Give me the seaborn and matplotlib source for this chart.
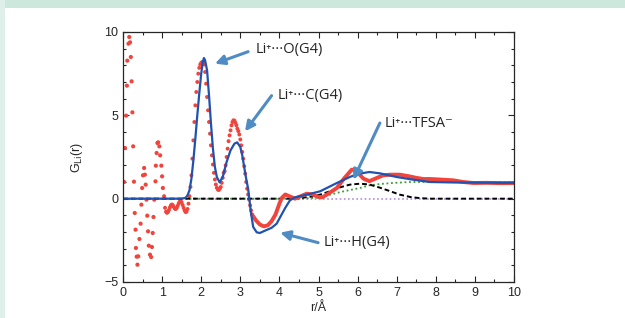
import numpy as np
import pandas as pd
import seaborn as sns
import matplotlib.pyplot as plt
from matplotlib.patches import Rectangle
from matplotlib.ticker import MultipleLocator

# 実験データ (赤点) - 低r側の散らばった点
r_exp_dots = [0.00, 0.03, 0.05, 0.08, 0.10, 0.11, 0.14, 0.16, 0.18, 0.20, 0.22, 0.24,
              0.26, 0.28, 0.30, 0.32, 0.33, 0.35, 0.37, 0.39, 0.42, 0.45, 0.47, 0.49,
              0.51, 0.54, 0.56, 0.58, 0.60, 0.62, 0.64, 0.66, 0.69, 0.72, 0.74, 0.76,
              0.78, 0.80, 0.83, 0.84, 0.86, 0.88, 0.90, 0.93, 0.95, 0.98, 1.00, 1.02]
g_exp_dots = [1.00, 1.00, 3.04, 4.98, 6.78, 8.28, 9.30, 9.70, 9.38, 8.50, 7.04, 5.18,
              3.14, 1.02, -0.86, -1.86, -2.96, -3.48, -3.96, -3.46, -2.42, -1.50, -0.36, 0.64,
              1.40, 1.84, 1.44, 0.84, -0.06, -1.02, -1.96, -2.82, -3.36, -3.50, -2.90, -2.06,
              -1.10, -0.06, 1.04, 1.98, 2.74, 3.34, 3.38, 3.14, 2.60, 1.98, 1.34, 0.64]

# 実験データ (赤点) - 密な点
r_exp_dense = [1.050, 1.075, 1.100, 1.125, 1.150, 1.175, 1.200, 1.225, 1.250, 1.275,
               1.300, 1.325, 1.350, 1.375, 1.400, 1.425, 1.450, 1.475, 1.500, 1.525,
               1.550, 1.575, 1.600, 1.625, 1.650, 1.675, 1.700, 1.725, 1.750, 1.775,
               1.800, 1.825, 1.850, 1.875, 1.900, 1.925, 1.950, 1.975, 2.000, 2.025,
               2.050, 2.075, 2.100, 2.125, 2.150, 2.175, 2.200, 2.225, 2.250, 2.275,
               2.300, 2.325, 2.350, 2.375, 2.400, 2.425, 2.450, 2.475, 2.500, 2.525,
               2.550, 2.575, 2.600, 2.625, 2.650, 2.675, 2.700, 2.725, 2.750, 2.775,
               2.800, 2.825, 2.850, 2.875, 2.900, 2.925, 2.950, 2.975, 3.000, 3.025,
               3.050, 3.075, 3.100, 3.125, 3.150, 3.175, 3.200, 3.225, 3.250, 3.275, 3.300]
g_exp_dense = [0.15, -0.55, -0.78, -0.85, -0.80, -0.68, -0.52, -0.40, -0.35, -0.40,
               -0.50, -0.60, -0.62, -0.55, -0.42, -0.28, -0.18, -0.15, -0.22, -0.38,
               -0.55, -0.70, -0.80, -0.78, -0.62, -0.30, 0.15, 0.70, 1.40, 2.40,
               3.50, 4.60, 5.60, 6.40, 7.00, 7.50, 7.85, 8.05, 8.15, 8.20,
               8.20, 8.05, 7.60, 6.90, 6.10, 5.30, 4.60, 3.90, 3.20, 2.60,
               2.05, 1.55, 1.15, 0.85, 0.65, 0.55, 0.52, 0.60, 0.70, 0.95,
               1.25, 1.55, 1.65, 2.00, 2.50, 3.00, 3.45, 3.80, 4.10, 4.40,
               4.60, 4.70, 4.68, 4.55, 4.40, 4.20, 4.05, 3.85, 3.55, 3.20,
               2.80, 2.40, 1.95, 1.50, 1.00, 0.60, 0.25, -0.05, -0.40, -0.70, -0.95]

# 実験データ (赤線)
r_exp_line = [3.30, 3.40, 3.50, 3.60, 3.70, 3.80, 3.90, 4.00, 4.06, 4.15, 4.25, 4.40,
              4.55, 4.70, 4.85, 5.00, 5.10, 5.25, 5.47, 5.65, 5.85, 5.95, 6.05, 6.15,
              6.30, 6.50, 6.65, 6.83, 7.08, 7.30, 7.50, 7.68, 7.85, 8.10, 8.45, 8.70,
              8.96, 9.30, 9.70, 10.0]
g_exp_line = [-0.95, -1.30, -1.55, -1.66, -1.60, -1.35, -0.95, -0.30, 0.04, 0.25, 0.15, 0.00,
              0.15, 0.30, 0.25, 0.10, 0.08, 0.30, 0.64, 1.20, 1.74, 1.70, 1.45, 1.20,
              1.05, 1.25, 1.40, 1.44, 1.44, 1.35, 1.25, 1.18, 1.18, 1.15, 1.10, 1.00,
              0.94, 0.95, 0.93, 0.94]

# 計算 (青線)
r_calc = [0.0, 1.50, 1.60, 1.65, 1.70, 1.75, 1.80, 1.85, 1.90, 1.95, 2.00, 2.04, 2.07,
          2.10, 2.15, 2.20, 2.25, 2.30, 2.35, 2.40, 2.47, 2.55, 2.65, 2.75, 2.85, 2.92,
          3.00, 3.05, 3.10, 3.15, 3.20, 3.27, 3.33, 3.42, 3.50, 3.65, 3.80, 3.93, 4.01,
          4.15, 4.27, 4.40, 4.70, 5.04, 5.47, 5.80, 6.00, 6.30, 6.57, 7.00, 7.42, 7.85,
          8.50, 10.0]
g_calc = [0.0, 0.0, 0.05, 0.20, 0.50, 1.20, 2.30, 3.60, 5.00, 6.30, 7.50, 8.20, 8.44,
          8.30, 7.70, 6.20, 4.50, 3.00, 1.90, 1.30, 0.98, 1.30, 2.20, 2.90, 3.30, 3.38,
          3.10, 2.60, 1.90, 1.20, 0.60, -0.80, -1.70, -2.02, -2.06, -1.90, -1.75, -1.50, -1.15,
          -0.55, -0.10, 0.08, 0.24, 0.44, 0.94, 1.30, 1.48, 1.60, 1.52, 1.30, 1.14, 1.00,
          0.97, 0.95]

# Li+...TFSA- (黒破線)
r_tfsa = [0.0, 4.30, 4.50, 4.80, 5.04, 5.30, 5.55, 5.80, 6.06, 6.30, 6.57, 6.83, 7.08,
          7.35, 7.60, 7.85, 10.0]
g_tfsa = [0.0, 0.0, 0.03, 0.12, 0.24, 0.45, 0.68, 0.84, 0.90, 0.85, 0.66, 0.45, 0.24,
          0.10, 0.03, 0.0, 0.0]

# 緑点線
r_green = [1.70, 4.50, 4.80, 5.00, 5.30, 5.60, 6.06, 6.30, 6.57, 6.90, 7.34, 8.00, 10.0]
g_green = [0.0, 0.0, 0.03, 0.08, 0.24, 0.42, 0.64, 0.80, 0.88, 0.94, 1.00, 1.00, 1.00]

# 紫点線
r_purple = [0.0, 10.0]
g_purple = [0.0, 0.0]

sns.set_style("ticks")
plt.rcParams['font.family'] = ['Liberation Sans', 'DejaVu Sans']
plt.rcParams['xtick.direction'] = 'in'
plt.rcParams['ytick.direction'] = 'in'

fig = plt.figure(figsize=(6.25, 3.18), dpi=100)
fig.patch.set_facecolor('white')
fig.add_artist(Rectangle((0, 1 - 8 / 318), 1, 8 / 318, transform=fig.transFigure,
                         facecolor='#cce7dc', edgecolor='none', zorder=0))
fig.add_artist(Rectangle((0, 0), 5 / 625, 1, transform=fig.transFigure,
                         facecolor='#dff0ea', edgecolor='none', zorder=0))

ax = fig.add_axes([123 / 625, 1 - 282 / 318, 391 / 625, 250 / 318])

sns.lineplot(x=r_purple, y=g_purple, ax=ax, color='#b48fd8', lw=1.2, linestyle=(0, (1, 1.5)),
             estimator=None, sort=False)
sns.lineplot(x=r_green, y=g_green, ax=ax, color='#3a9a3a', lw=1.3, linestyle=(0, (1, 1.5)),
             estimator=None, sort=False)
sns.lineplot(x=r_tfsa, y=g_tfsa, ax=ax, color='black', lw=1.4, linestyle=(0, (2.5, 1.5)),
             estimator=None, sort=False)
sns.scatterplot(x=r_exp_dots, y=g_exp_dots, ax=ax, color='#f0443c', s=9, edgecolor='none')
sns.scatterplot(x=r_exp_dense, y=g_exp_dense, ax=ax, color='#f0443c', s=8, edgecolor='none')
sns.lineplot(x=r_exp_line, y=g_exp_line, ax=ax, color='#f0443c', lw=2.8,
             estimator=None, sort=False)
sns.lineplot(x=r_calc, y=g_calc, ax=ax, color='#2052b0', lw=1.6,
             estimator=None, sort=False)

ax.set_xlim(0, 10)
ax.set_ylim(-5, 10)
ax.xaxis.set_major_locator(MultipleLocator(1))
ax.xaxis.set_minor_locator(MultipleLocator(0.5))
ax.yaxis.set_major_locator(MultipleLocator(5))
ax.yaxis.set_minor_locator(MultipleLocator(1))
ax.tick_params(which='both', top=True, right=True, direction='in', width=0.8, labelsize=9)
ax.tick_params(which='major', length=4)
ax.tick_params(which='minor', length=2.5)
for s in ax.spines.values():
    s.set_linewidth(0.9)
ax.set_yticks([-5, 0, 5, 10])
ax.set_yticklabels(['\u22125', '0', '5', '10'])

ax.set_xlabel('r/Å', fontsize=9, labelpad=2)
ax.set_ylabel('G$_{\\rm Li}$(r)', fontsize=9, labelpad=14)

arrow = dict(arrowstyle='-|>', color='#4f8cc4', lw=2.2, mutation_scale=14, shrinkA=0, shrinkB=0)
afont = dict(fontsize=10.5, family=['Open Sans', 'DejaVu Sans'], va='center', ha='left')

ax.annotate('', xy=(2.35, 8.1), xytext=(3.2, 8.82), arrowprops=arrow)
ax.text(3.38, 8.94, 'Li\u207a\u00b7\u00b7\u00b7O(G4)', **afont)

ax.annotate('', xy=(3.12, 4.04), xytext=(3.8, 6.18), arrowprops=arrow)
ax.text(3.96, 6.18, 'Li\u207a\u00b7\u00b7\u00b7C(G4)', **afont)

ax.annotate('', xy=(5.89, 1.14), xytext=(6.57, 4.54), arrowprops=arrow)
ax.text(6.70, 4.5, 'Li\u207a\u00b7\u00b7\u00b7TFSA\u207b', **afont)

ax.annotate('', xy=(4.02, -2.04), xytext=(4.99, -2.64), arrowprops=arrow)
ax.text(5.12, -2.64, 'Li\u207a\u00b7\u00b7\u00b7H(G4)', **afont)

fig.savefig('out.png', dpi=100, facecolor=fig.get_facecolor())
